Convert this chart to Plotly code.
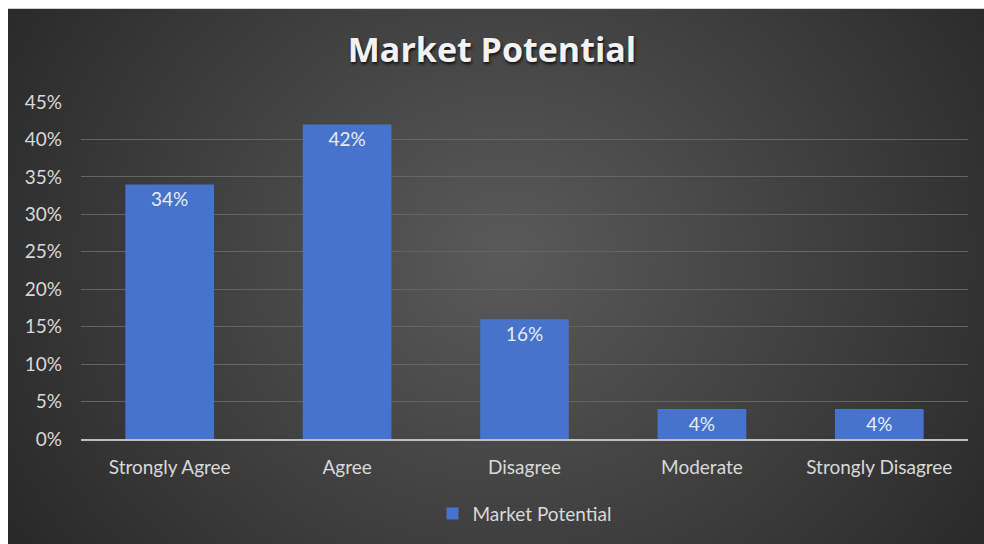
import base64
import plotly.graph_objects as go

categories = ["Strongly Agree", "Agree", "Disagree", "Moderate", "Strongly Disagree"]
values = [0.34, 0.42, 0.16, 0.04, 0.04]
labels = ["34%", "42%", "16%", "4%", "4%"]
series_name = "Market Potential"
y_ticks = [0, 0.05, 0.10, 0.15, 0.20, 0.25, 0.30, 0.35, 0.40, 0.45]
y_tick_text = ["0%", "5%", "10%", "15%", "20%", "25%", "30%", "35%", "40%", "45%"]

W, H = 984, 544
ML, MR, MT, MB = 81, 16, 102, 103
PW, PH = W - ML - MR, H - MT - MB

svg = (
    '<svg xmlns="http://www.w3.org/2000/svg" width="1000" height="560" viewBox="0 0 1000 560" preserveAspectRatio="none">'
    '<defs><radialGradient id="g" cx="50%" cy="45%" r="62%" gradientTransform="translate(0.5,0.45) scale(1,1.6) translate(-0.5,-0.45)">'
    '<stop offset="0%" stop-color="#5a5a5a"/><stop offset="100%" stop-color="#262626"/>'
    '</radialGradient></defs><rect width="1000" height="560" fill="url(#g)"/></svg>'
)
bg_src = "data:image/svg+xml;base64," + base64.b64encode(svg.encode()).decode()

fig = go.Figure()
fig.add_trace(go.Bar(
    x=categories, y=values, name=series_name,
    marker=dict(color="#4673cb", line=dict(width=0)),
    width=0.5,
    text=labels, textposition="inside", insidetextanchor="end",
    constraintext="none",
    textfont=dict(family="Lato", size=19, color="#e8ecf5"),
    hoverinfo="skip",
))

x0 = (8 - ML) / PW
y0 = 1 + (MT - 8) / PH
fig.add_layout_image(dict(
    source=bg_src, xref="paper", yref="paper",
    x=x0, y=y0, sizex=(W + 20 - 8) / PW, sizey=(H + 20 - 8) / PH,
    xanchor="left", yanchor="top", sizing="stretch", layer="below",
))

fig.update_layout(
    width=W, height=H,
    margin=dict(l=ML, r=MR, t=MT, b=MB),
    paper_bgcolor="white", plot_bgcolor="rgba(0,0,0,0)",
    title=dict(
        text="<b>Market Potential</b>", x=0.5, xanchor="center",
        y=1 - 50 / H, yanchor="middle", yref="container",
        font=dict(family="Open Sans", size=34, color="#f2f2f2", shadow="1px 2px 3px #111"),
    ),
    showlegend=True,
    legend=dict(
        orientation="h", x=0.5, xanchor="center",
        y=1 - (516 - MT) / PH, yanchor="middle",
        font=dict(family="Lato", size=19, color="#d9d9d9"),
        bgcolor="rgba(0,0,0,0)",
    ),
    bargap=0.5,
    xaxis=dict(
        showgrid=False, showline=True, linecolor="#bfbfbf", linewidth=2,
        tickfont=dict(family="Lato", size=19, color="#d9d9d9"),
        ticks="", ticklabelstandoff=10, fixedrange=True,
    ),
    yaxis=dict(
        range=[0, 0.45], tickvals=y_ticks, ticktext=y_tick_text,
        showgrid=True, gridcolor="#646464", gridwidth=1,
        zeroline=False, showline=False,
        tickfont=dict(family="Lato", size=19, color="#d9d9d9"),
        ticks="", ticklabelstandoff=18, fixedrange=True,
    ),
)

fig.write_html("out.html")
